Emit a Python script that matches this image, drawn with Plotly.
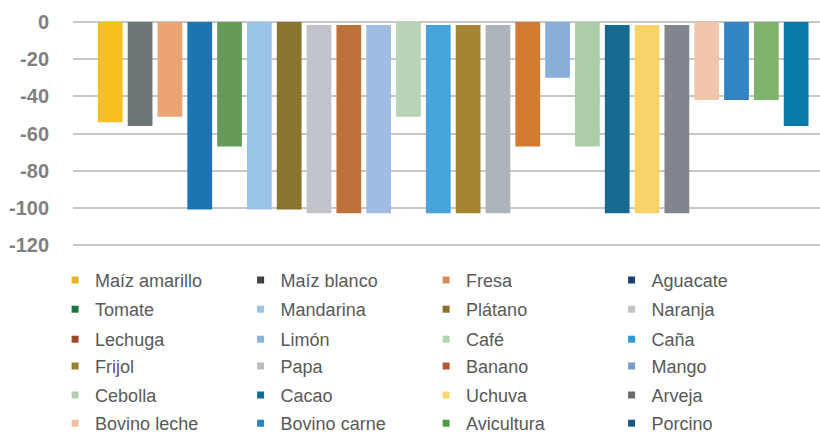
import plotly.graph_objects as go

categories = ["Maíz amarillo", "Maíz blanco", "Fresa", "Aguacate", "Tomate", "Mandarina",
              "Plátano", "Naranja", "Lechuga", "Limón", "Café", "Caña",
              "Frijol", "Papa", "Banano", "Mango", "Cebolla", "Cacao",
              "Uchuva", "Arveja", "Bovino leche", "Bovino carne", "Avicultura", "Porcino"]
bottoms = [-54, -56, -51, -101, -67, -101,
           -101, -103, -103, -103, -51, -103,
           -103, -103, -67, -30, -67, -103,
           -103, -103, -42, -42, -42, -56]
tops = [0, 0, 0, 0, 0, 0,
        0, -1.5, -1.5, -1.5, 0, -1.5,
        -1.5, -1.5, 0, 0, 0, -1.5,
        -1.5, -1.5, 0, 0, 0, 0]
bar_colors = ["#F6C020", "#6E7577", "#EBA373", "#1A75B2", "#669A58", "#99C4E8",
              "#8A7530", "#C2C4CC", "#BC7238", "#A0BCE2", "#B8D4B6", "#46A4DA",
              "#A58432", "#ADB3BA", "#D07A32", "#88AEDA", "#ADCCA8", "#156B90",
              "#FAD26A", "#80868C", "#F0C5A9", "#3185C5", "#7DB46A", "#0879A8"]
legend_colors = ["#EBB02D", "#3E4244", "#D98D5E", "#1F3E73", "#1E7A3C", "#9DC3E6",
                 "#8A7028", "#BFC3C8", "#A0492A", "#8FB2DC", "#B7D5B5", "#2E9BD6",
                 "#9B7F2E", "#B9BDC4", "#B85230", "#7A9CC8", "#B0D1AA", "#0E6F96",
                 "#FDD86E", "#646A6E", "#F0BFA0", "#2A83C8", "#4E9E45", "#1A5A80"]
tick_vals = [0, -20, -40, -60, -80, -100, -120]
tick_text = ["0", "-20", "-40", "-60", "-80", "-100", "-120"]

# layout
W, H = 820, 433
ML, MR, MT, MB = 73, 0, 21, 187
plot_w = W - ML - MR
plot_h = H - MT - MB
row_centers_px = [280.7, 310, 340, 366.7, 395.7, 424]
per_row = 4

fig = go.Figure()
for cat, b, t, c in zip(categories, bottoms, tops, bar_colors):
    fig.add_trace(go.Bar(x=[cat], y=[b - t], base=[t], marker=dict(color=c, line=dict(width=0)),
                         width=0.83, showlegend=False, name=cat))
for i, (cat, c) in enumerate(zip(categories, legend_colors)):
    lg = "legend" if i // per_row == 0 else f"legend{i // per_row + 1}"
    fig.add_trace(go.Scatter(x=[None], y=[None], mode="markers", name=cat, legend=lg,
                             marker=dict(symbol="square", size=7, color=c)))

legend_font = dict(family="Liberation Sans, Arial, sans-serif", size=18, color="#595959")
legends = {}
for r, cy in enumerate(row_centers_px):
    key = "legend" if r == 0 else f"legend{r + 1}"
    top_px = cy - 19
    legends[key] = dict(orientation="h", x=-0.032 + 6 / plot_w, xanchor="left",
                        y=-(top_px - (H - MB)) / plot_h, yanchor="top",
                        entrywidth=140.5, entrywidthmode="pixels",
                        font=legend_font, itemwidth=30, bgcolor="rgba(0,0,0,0)")

fig.update_layout(
    width=W, height=H,
    margin=dict(l=ML, r=MR, t=MT, b=MB, autoexpand=False),
    plot_bgcolor="white", paper_bgcolor="white",
    barmode="overlay",
    showlegend=True,
    xaxis=dict(type="category", categoryarray=categories, range=[-1.25, 23.8],
               showticklabels=False, showgrid=False, zeroline=False, showline=False, ticks=""),
    yaxis=dict(range=[-120.6, 0.6], tickvals=tick_vals, ticktext=tick_text,
               showgrid=True, gridcolor="#C8C8C8", gridwidth=2, zeroline=False, showline=False,
               tickfont=dict(family="Liberation Sans, Arial, sans-serif", size=20, color="#808080",
                             weight="bold"),
               ticklabelstandoff=23),
    **legends,
)

fig.write_html("out.html", config={"displayModeBar": False},
               post_script="document.body.style.margin='0';document.body.style.overflow='hidden';")
